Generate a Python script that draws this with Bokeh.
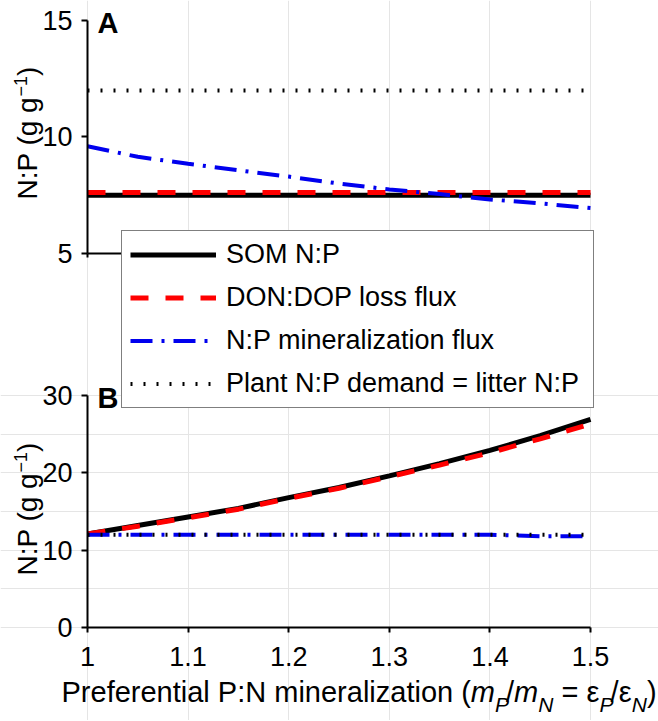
import math
from bokeh.plotting import figure
from bokeh.models import (Range1d, LinearAxis, FixedTicker, Legend, LegendItem, Label)
from bokeh.embed import file_html
from bokeh.resources import INLINE

# ---------------- data ----------------
x_vals = [1.00, 1.05, 1.10, 1.15, 1.20, 1.25, 1.30, 1.35, 1.40, 1.45, 1.50]

# Panel A
som_a = [7.5, 7.5, 7.5, 7.5, 7.5, 7.5, 7.5, 7.5, 7.5, 7.5, 7.5]
don_a = [7.62, 7.62, 7.62, 7.62, 7.62, 7.62, 7.62, 7.62, 7.62, 7.62, 7.62]
min_a = [9.6, 9.15, 8.85, 8.57, 8.3, 8.0, 7.75, 7.55, 7.32, 7.15, 6.95]
plant_a = [12, 12, 12, 12, 12, 12, 12, 12, 12, 12, 12]

# Panel B
som_b = [12.1, 13.2, 14.3, 15.4, 16.8, 18.1, 19.6, 21.2, 22.9, 24.8, 26.9]
don_b = [12.1, 13.1, 14.2, 15.3, 16.7, 18.0, 19.5, 21.0, 22.6, 24.4, 26.3]
min_b = [12, 12, 12, 12, 12, 12, 12, 12, 12, 11.8, 11.8]
plant_b = [12, 12, 12, 12, 12, 12, 12, 12, 12, 12, 12]

x_ticks = [1.0, 1.1, 1.2, 1.3, 1.4, 1.5]
x_tick_labels = ["1", "1.1", "1.2", "1.3", "1.4", "1.5"]
a_ticks = [5, 10, 15]
b_ticks = [0, 10, 20, 30]

series_names = ["SOM N:P", "DON:DOP loss flux", "N:P mineralization flux",
                "Plant N:P demand = litter N:P"]

# ---------------- styling ----------------
FONT = "Liberation Sans"
TICK_SIZE = "27px"
RED = "#ff0000"
BLUE = "#0000ee"
W, H = 658, 720

# the frame fills the whole canvas; axes are placed at fixed locations
p = figure(width=W, height=H, min_border=0,
           x_range=Range1d(0.91352, 1.56759), y_range=Range1d(-12.026, 81.078),
           x_axis_location=None, y_axis_location=None,
           output_backend="svg", toolbar_location=None, tools="")
p.outline_line_color = None
p.background_fill_color = "white"
p.border_fill_color = "white"
p.extra_y_ranges = {"A": Range1d(-15.043, 15.858)}


def style_axis(ax, tick_out, standoff):
    ax.axis_line_color = "black"
    ax.axis_line_width = 2
    ax.major_tick_line_color = "black"
    ax.major_tick_line_width = 2
    ax.major_tick_out = tick_out
    ax.major_tick_in = 0
    ax.minor_tick_line_color = None
    ax.major_label_text_font = FONT
    ax.major_label_text_font_size = TICK_SIZE
    ax.major_label_text_color = "black"
    ax.major_label_standoff = standoff


# panel B x-axis at y = 0
xb = LinearAxis(fixed_location=0, bounds=(1.0, 1.5), ticker=FixedTicker(ticks=x_ticks))
xb.major_label_overrides = {t: l for t, l in zip(x_ticks, x_tick_labels)}
style_axis(xb, 5, 15)
p.add_layout(xb, "below")

# panel B y-axis at x = 1
yb = LinearAxis(fixed_location=1.0, bounds=(0, 30), ticker=FixedTicker(ticks=b_ticks))
style_axis(yb, 6, 9)
p.add_layout(yb, "left")

# panel A y-axis at x = 1
ya = LinearAxis(y_range_name="A", fixed_location=1.0, bounds=(5, 15),
                ticker=FixedTicker(ticks=a_ticks))
style_axis(ya, 6, 9)
p.add_layout(ya, "left")

# panel A x-axis at y = 5 (mostly hidden behind the legend)
xa = LinearAxis(y_range_name="A", fixed_location=5, bounds=(1.0, 1.5),
                ticker=FixedTicker(ticks=x_ticks))
xa.major_label_overrides = {t: "" for t in x_ticks}
style_axis(xa, 4, 5)
p.add_layout(xa, "below")

# ---------------- lines ----------------
ra_som = p.line(x_vals, som_a, y_range_name="A", line_color="black", line_width=5)
ra_don = p.line(x_vals, don_a, y_range_name="A", line_color=RED, line_width=5,
                line_dash="18 17")
ra_min = p.line(x_vals, min_a, y_range_name="A", line_color=BLUE, line_width=4,
                line_dash="22 9 3 9")
ra_plant = p.line(x_vals, plant_a, y_range_name="A", line_color="black", line_width=4,
                  line_dash="2 11")

rb_som = p.line(x_vals, som_b, line_color="black", line_width=5)
rb_don = p.line(x_vals, don_b, line_color=RED, line_width=5, line_dash="18 17")
rb_min = p.line(x_vals, min_b, line_color=BLUE, line_width=4, line_dash="22 9 3 9")
rb_plant = p.line(x_vals, plant_b, line_color="black", line_width=4, line_dash="2 11")

# ---------------- legend ----------------
legend = Legend(items=[
    LegendItem(label=series_names[0], renderers=[ra_som]),
    LegendItem(label=series_names[1], renderers=[ra_don]),
    LegendItem(label=series_names[2], renderers=[ra_min]),
    LegendItem(label=series_names[3], renderers=[ra_plant]),
], location=(121, 312))
legend.border_line_color = "black"
legend.border_line_width = 1.5
legend.background_fill_color = "white"
legend.background_fill_alpha = 1.0
legend.label_text_font = FONT
legend.label_text_font_size = "27px"
legend.label_text_color = "black"
legend.glyph_width = 86
legend.glyph_height = 31
legend.label_height = 31
legend.label_width = 359
legend.label_standoff = 10
legend.spacing = 12
legend.padding = 8
legend.margin = 0
p.add_layout(legend)


# ---------------- text labels (screen units: from canvas left / bottom) ----------------
def add_text(x, y, text, size, style="normal", angle=0.0):
    p.add_layout(Label(x=x, y=y, x_units="screen", y_units="screen",
                       text=text, text_font=FONT, text_font_size=f"{size}px",
                       text_font_style=style, text_color="black", angle=angle,
                       text_align="left", text_baseline="middle"))


# rotated y-axis titles: "N:P (g g" + superscript "−1" + ")"
YL = 28
for start in (521.0, 145.0):
    add_text(27.2, start, "N:P (g g", YL, angle=math.pi / 2)
    add_text(19.7, start + 103.0, "\u22121", 18, angle=math.pi / 2)
    add_text(27.2, start + 123.5, ")", YL, angle=math.pi / 2)

# panel letters
add_text(97, 720 - 22.5, "A", 29, "bold")
add_text(97, 720 - 397.5, "B", 29, "bold")

# x-axis title built from pieces (italic m, subscripts)
MAIN_Y = 28.1
SUB_Y = 16.4
pieces = [
    # text, style, size, y, gap before, advance
    ("Preferential P:N mineralization (", "normal", 29, MAIN_Y, 0.0, 409.3),
    ("m", "italic", 29, MAIN_Y, 0.0, 24.2),
    ("P", "italic", 21, SUB_Y, 0.0, 11.0),
    ("/", "normal", 29, MAIN_Y, 0.0, 8.1),
    ("m", "italic", 29, MAIN_Y, 0.0, 24.2),
    ("N", "italic", 21, SUB_Y, 0.0, 15.2),
    ("=", "normal", 29, MAIN_Y, 8.1, 25.0),
    ("\u03b5", "normal", 29, MAIN_Y, 0.0, 13.0),
    ("P", "italic", 21, SUB_Y, 0.0, 11.0),
    ("/", "normal", 29, MAIN_Y, 0.0, 8.1),
    ("\u03b5", "normal", 29, MAIN_Y, 0.0, 13.0),
    ("N", "italic", 21, SUB_Y, 0.0, 15.2),
    (")", "normal", 29, MAIN_Y, 0.0, 9.7),
]
cx = 61.0
for txt, style, size, yy, gap, adv in pieces:
    cx += gap
    add_text(cx, yy, txt, size, style)
    cx += adv

open("out.html", "w").write(file_html(p, INLINE))
